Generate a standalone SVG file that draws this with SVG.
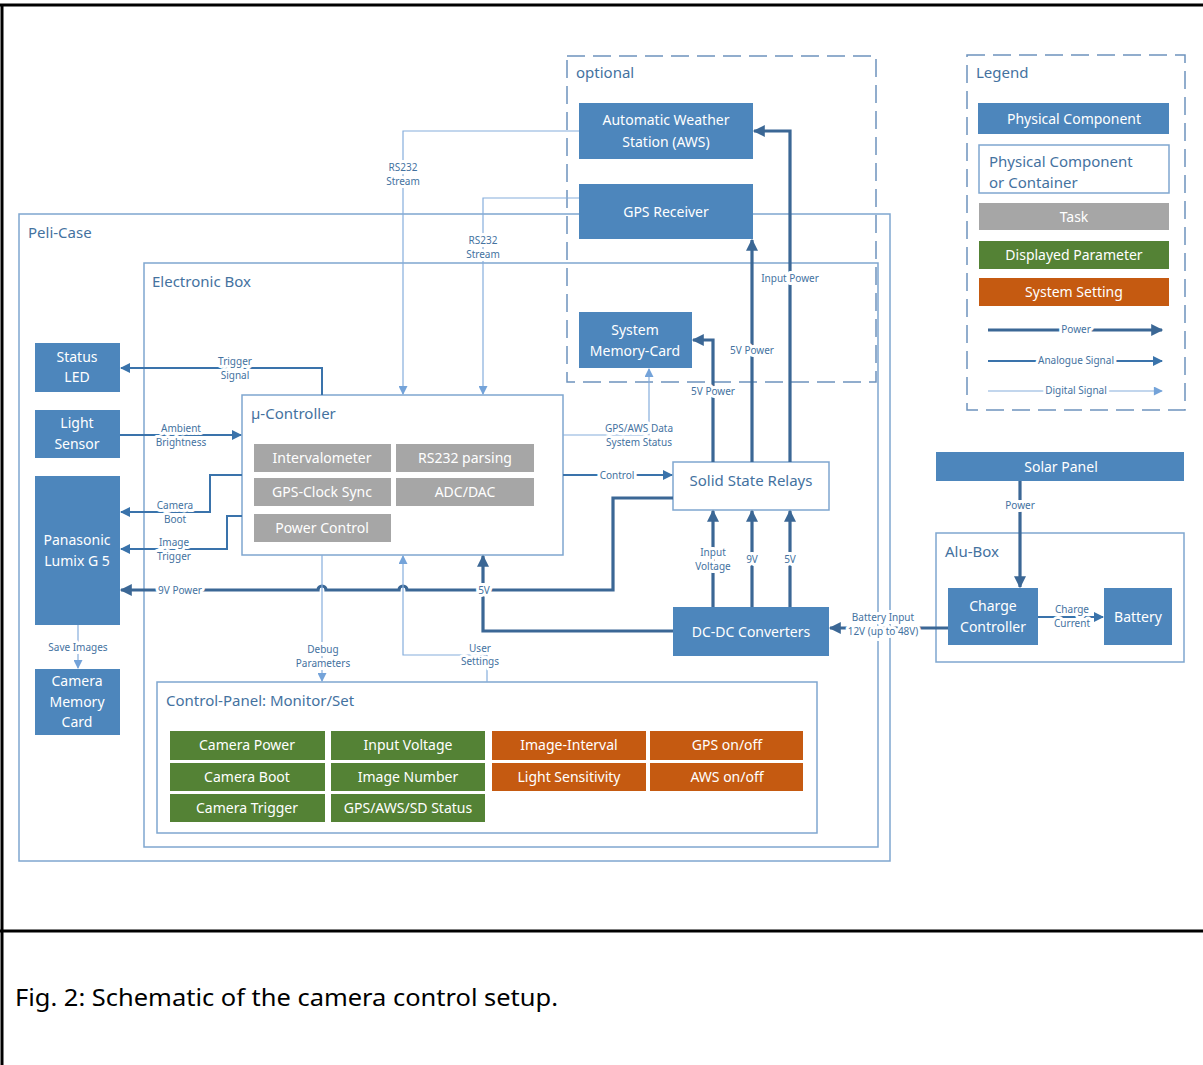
<svg xmlns="http://www.w3.org/2000/svg" width="1203" height="1065" viewBox="0 0 1203 1065">
<style>
text{font-family:"Noto Sans","Open Sans","DejaVu Sans",sans-serif}
.phys{fill:#4d86bc}
.cont{fill:#fff;stroke:#7fa6cf;stroke-width:1.5}
.task{fill:#a6a6a6}
.disp{fill:#548235}
.set{fill:#c55a11}
.wt{fill:#fff;font-size:14px;text-anchor:middle}
.bt{fill:#44729f;font-size:15px}
.lbl{fill:#44729f;font-size:10px;text-anchor:middle;stroke:#fff;stroke-width:6px;paint-order:stroke;stroke-linejoin:round}
.dash{fill:none;stroke:#6d93bd;stroke-width:1.5;stroke-dasharray:18 8}
.pw{fill:none;stroke:#3b6795;stroke-width:3.2}
.an{fill:none;stroke:#3a73ab;stroke-width:2}
.dg{fill:none;stroke:#86aedc;stroke-width:1.2}
</style>
<defs>
<marker id="mp" viewBox="0 0 10 10" refX="9" refY="5" markerWidth="13" markerHeight="12" markerUnits="userSpaceOnUse" orient="auto"><path d="M0,0 L10,5 L0,10 z" fill="#3b6795"/></marker>
<marker id="ma" viewBox="0 0 10 10" refX="9" refY="5" markerWidth="11" markerHeight="10" markerUnits="userSpaceOnUse" orient="auto"><path d="M0,0 L10,5 L0,10 z" fill="#3a73ab"/></marker>
<marker id="md" viewBox="0 0 10 10" refX="9" refY="5" markerWidth="10" markerHeight="9" markerUnits="userSpaceOnUse" orient="auto"><path d="M0,0 L10,5 L0,10 z" fill="#74a3d9"/></marker>
</defs>
<rect width="1203" height="1065" fill="#fff"/>
<g id="frame" stroke="#000" stroke-width="3">
<line x1="0" y1="5" x2="1203" y2="5"/>
<line x1="2" y1="5" x2="2" y2="1065"/>
<line x1="0" y1="931" x2="1203" y2="931"/>
</g>
<text id="caption" x="15" y="1006" font-family="'Liberation Sans',Arial,sans-serif" font-size="24" textLength="543" lengthAdjust="spacingAndGlyphs" fill="#000">Fig. 2: Schematic of the camera control setup.</text>

<g id="peli-case"><rect class="cont" x="19" y="214" width="871" height="647"/><text class="bt" x="28" y="238">Peli-Case</text></g>
<g id="electronic-box"><rect class="cont" x="144" y="263" width="734" height="584"/><text class="bt" x="152" y="287">Electronic Box</text></g>
<g id="optional"><rect class="dash" x="567" y="56" width="309" height="326"/><text class="bt" x="576" y="78">optional</text></g>
<g id="legend"><rect class="dash" x="967" y="55" width="218" height="355"/><text class="bt" x="976" y="78">Legend</text>
<rect class="phys" x="978" y="103" width="191" height="31"/><text class="wt" x="1074" y="124">Physical Component</text>
<rect class="cont" x="979" y="145" width="190" height="48"/><text class="bt" x="989" y="167">Physical Component</text><text class="bt" x="989" y="188">or Container</text>
<rect class="task" x="979" y="203" width="190" height="27"/><text class="wt" x="1074" y="222">Task</text>
<rect class="disp" x="979" y="241" width="190" height="28"/><text class="wt" x="1074" y="260">Displayed Parameter</text>
<rect class="set" x="979" y="278" width="190" height="28"/><text class="wt" x="1074" y="297">System Setting</text>
<line class="pw" x1="988" y1="330" x2="1162" y2="330" marker-end="url(#mp)"/><text class="lbl" x="1076" y="333">Power</text>
<line class="an" x1="988" y1="361" x2="1162" y2="361" marker-end="url(#ma)"/><text class="lbl" x="1076" y="364">Analogue Signal</text>
<line class="dg" x1="988" y1="391" x2="1162" y2="391" marker-end="url(#md)"/><text class="lbl" x="1076" y="394">Digital Signal</text>
</g>

<g id="aws"><rect class="phys" x="579" y="103" width="174" height="56"/><text class="wt" x="666" y="125">Automatic Weather</text><text class="wt" x="666" y="147">Station (AWS)</text></g>
<g id="gps"><rect class="phys" x="579" y="184" width="174" height="55"/><text class="wt" x="666" y="217">GPS Receiver</text></g>
<g id="sys-mem"><rect class="phys" x="579" y="312" width="113" height="56"/><text class="wt" x="635" y="335">System</text><text class="wt" x="635" y="356">Memory-Card</text></g>
<g id="status-led"><rect class="phys" x="35" y="343" width="85" height="49"/><text class="wt" x="77" y="362">Status</text><text class="wt" x="77" y="382">LED</text></g>
<g id="light-sensor"><rect class="phys" x="35" y="410" width="85" height="48"/><text class="wt" x="77" y="428">Light</text><text class="wt" x="77" y="449">Sensor</text></g>
<g id="camera"><rect class="phys" x="35" y="476" width="85" height="149"/><text class="wt" x="77" y="545">Panasonic</text><text class="wt" x="77" y="566">Lumix G 5</text></g>
<g id="cam-mem"><rect class="phys" x="35" y="669" width="85" height="66"/><text class="wt" x="77" y="686">Camera</text><text class="wt" x="77" y="707">Memory</text><text class="wt" x="77" y="727">Card</text></g>

<g id="controller"><rect class="cont" x="242" y="395" width="321" height="160"/><text class="bt" x="251" y="419">µ-Controller</text>
<rect class="task" x="254" y="444" width="137" height="28"/><text class="wt" x="322" y="463">Intervalometer</text>
<rect class="task" x="396" y="444" width="138" height="28"/><text class="wt" x="465" y="463">RS232 parsing</text>
<rect class="task" x="254" y="478" width="137" height="28"/><text class="wt" x="322" y="497">GPS-Clock Sync</text>
<rect class="task" x="396" y="478" width="138" height="28"/><text class="wt" x="465" y="497">ADC/DAC</text>
<rect class="task" x="254" y="514" width="137" height="28"/><text class="wt" x="322" y="533">Power Control</text>
</g>
<g id="ssr"><rect class="cont" x="673" y="462" width="156" height="48"/><text class="bt" x="751" y="486" text-anchor="middle">Solid State Relays</text></g>
<g id="dcdc"><rect class="phys" x="673" y="607" width="156" height="49"/><text class="wt" x="751" y="637">DC-DC Converters</text></g>
<g id="solar"><rect class="phys" x="936" y="452" width="248" height="29"/><text class="wt" x="1061" y="472">Solar Panel</text></g>
<g id="alu-box"><rect class="cont" x="936" y="533" width="248" height="129"/><text class="bt" x="945" y="557">Alu-Box</text></g>
<g id="charge-ctrl"><rect class="phys" x="948" y="588" width="90" height="57"/><text class="wt" x="993" y="611">Charge</text><text class="wt" x="993" y="632">Controller</text></g>
<g id="battery"><rect class="phys" x="1104" y="588" width="68" height="57"/><text class="wt" x="1138" y="622">Battery</text></g>

<g id="control-panel"><rect class="cont" x="157" y="682" width="660" height="151"/><text class="bt" x="166" y="706">Control-Panel: Monitor/Set</text>
<rect class="disp" x="170" y="731" width="155" height="29"/><text class="wt" x="247" y="750">Camera Power</text>
<rect class="disp" x="331" y="731" width="154" height="29"/><text class="wt" x="408" y="750">Input Voltage</text>
<rect class="set" x="492" y="731" width="154" height="29"/><text class="wt" x="569" y="750">Image-Interval</text>
<rect class="set" x="650" y="731" width="153" height="29"/><text class="wt" x="727" y="750">GPS on/off</text>
<rect class="disp" x="170" y="763" width="155" height="28"/><text class="wt" x="247" y="782">Camera Boot</text>
<rect class="disp" x="331" y="763" width="154" height="28"/><text class="wt" x="408" y="782">Image Number</text>
<rect class="set" x="492" y="763" width="154" height="28"/><text class="wt" x="569" y="782">Light Sensitivity</text>
<rect class="set" x="650" y="763" width="153" height="28"/><text class="wt" x="727" y="782">AWS on/off</text>
<rect class="disp" x="170" y="794" width="155" height="28"/><text class="wt" x="247" y="813">Camera Trigger</text>
<rect class="disp" x="331" y="794" width="154" height="28"/><text class="wt" x="408" y="813">GPS/AWS/SD Status</text>
</g>

<g id="connectors">
<path class="dg" d="M579,131 H403 V394" marker-end="url(#md)"/>
<path class="dg" d="M579,198 H483 V394" marker-end="url(#md)"/>
<path class="an" d="M322,395 V368 H121" marker-end="url(#ma)"/>
<path class="an" d="M120,435 H241" marker-end="url(#ma)"/>
<path class="an" d="M242,475 H210 V512 H121" marker-end="url(#ma)"/>
<path class="an" d="M242,516 H227 V549 H121" marker-end="url(#ma)"/>
<path class="pw" d="M673,498 H613 V590 H407 a4,4 0 0 0 -8,0 H326 a4,4 0 0 0 -8,0 H121" marker-end="url(#mp)"/>
<path class="pw" d="M673,631 H483 V556" marker-end="url(#mp)"/>
<path class="dg" d="M322,555 V681" marker-end="url(#md)"/>
<path class="dg" d="M487,682 V655 H403 V556" marker-end="url(#md)"/>
<path class="dg" d="M563,435 H649 V369" marker-end="url(#md)"/>
<path class="an" d="M563,475 H672" marker-end="url(#ma)"/>
<path class="pw" d="M713,462 V340 H693" marker-end="url(#mp)"/>
<path class="pw" d="M752,462 V240" marker-end="url(#mp)"/>
<path class="pw" d="M790,462 V131 H754" marker-end="url(#mp)"/>
<path class="pw" d="M713,607 V511" marker-end="url(#mp)"/>
<path class="pw" d="M752,607 V511" marker-end="url(#mp)"/>
<path class="pw" d="M790,607 V511" marker-end="url(#mp)"/>
<path class="pw" d="M948,628 H830" marker-end="url(#mp)"/>
<path class="pw" d="M1020,481 V587" marker-end="url(#mp)"/>
<path class="an" d="M1038,617 H1103" marker-end="url(#ma)"/>
<path class="dg" d="M78,625 V668" marker-end="url(#md)"/>
<text class="lbl" x="403" y="171">RS232</text><text class="lbl" x="403" y="185">Stream</text>
<text class="lbl" x="483" y="244">RS232</text><text class="lbl" x="483" y="258">Stream</text>
<text class="lbl" x="235" y="365">Trigger</text><text class="lbl" x="235" y="379">Signal</text>
<text class="lbl" x="181" y="432">Ambient</text><text class="lbl" x="181" y="446">Brightness</text>
<text class="lbl" x="175" y="509">Camera</text><text class="lbl" x="175" y="523">Boot</text>
<text class="lbl" x="174" y="546">Image</text><text class="lbl" x="174" y="560">Trigger</text>
<text class="lbl" x="180" y="594">9V Power</text>
<text class="lbl" x="484" y="594">5V</text>
<text class="lbl" x="323" y="653">Debug</text><text class="lbl" x="323" y="667">Parameters</text>
<text class="lbl" x="480" y="652">User</text><text class="lbl" x="480" y="665">Settings</text>
<text class="lbl" x="639" y="432">GPS/AWS Data</text><text class="lbl" x="639" y="446">System Status</text>
<text class="lbl" x="617" y="479">Control</text>
<text class="lbl" x="713" y="395">5V Power</text>
<text class="lbl" x="752" y="354">5V Power</text>
<text class="lbl" x="790" y="282">Input Power</text>
<text class="lbl" x="713" y="556">Input</text><text class="lbl" x="713" y="570">Voltage</text>
<text class="lbl" x="752" y="563">9V</text>
<text class="lbl" x="790" y="563">5V</text>
<text class="lbl" x="883" y="621">Battery Input</text><text class="lbl" x="883" y="635">12V (up to 48V)</text>
<text class="lbl" x="1020" y="509">Power</text>
<text class="lbl" x="1072" y="613">Charge</text><text class="lbl" x="1072" y="627">Current</text>
<text class="lbl" x="78" y="651">Save Images</text>
</g>
</svg>
